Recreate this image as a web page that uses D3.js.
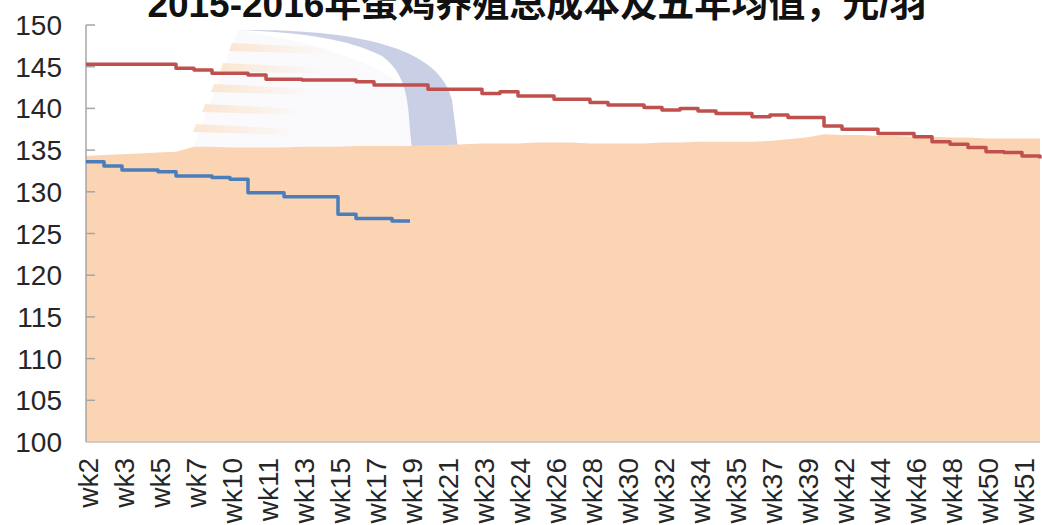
<!DOCTYPE html>
<html>
<head>
<meta charset="utf-8">
<script src="https://cdn.jsdelivr.net/npm/d3@7"></script>
<style>
  body { margin: 0; background: #fff; }
  svg { display: block; }
  text { font-family: "Liberation Sans", Arial, "Noto Sans CJK SC", sans-serif; }
</style>
</head>
<body>
<script>
// week labels shown on the axis (every second point)
const weekLabels = ["wk2", "wk3", "wk5", "wk7", "wk10", "wk11", "wk13", "wk15", "wk17", "wk19",
  "wk21", "wk23", "wk24", "wk26", "wk28", "wk30", "wk32", "wk34", "wk35", "wk37",
  "wk39", "wk42", "wk44", "wk46", "wk48", "wk50", "wk51"];

// orange area (2015)
const area2015 = [134.3, 134.4, 134.5, 134.6, 134.7, 134.8, 135.4, 135.4, 135.3, 135.3,
  135.3, 135.3, 135.4, 135.4, 135.4, 135.5, 135.5, 135.5, 135.5, 135.6,
  135.6, 135.7, 135.8, 135.8, 135.8, 135.9, 135.9, 135.9, 135.8, 135.8,
  135.8, 135.8, 135.9, 135.9, 136.0, 136.0, 136.0, 136.0, 136.1, 136.3,
  136.5, 136.9, 136.8, 136.8, 136.7, 136.7, 136.6, 136.6, 136.5, 136.5,
  136.4, 136.4, 136.4, 136.4];

// red line (five-year average)
const avg5 = [145.3, 145.3, 145.3, 145.3, 145.3, 144.8, 144.6, 144.2, 144.2, 144.0,
  143.5, 143.5, 143.4, 143.4, 143.4, 143.2, 142.8, 142.8, 142.8, 142.3,
  142.3, 142.3, 141.8, 142.0, 141.5, 141.5, 141.1, 141.1, 140.7, 140.4,
  140.4, 140.1, 139.8, 140.0, 139.7, 139.4, 139.4, 139.0, 139.2, 138.9,
  138.9, 137.9, 137.5, 137.5, 137.0, 137.0, 136.6, 136.0, 135.7, 135.3,
  134.8, 134.7, 134.3, 134.0];

// blue line (2016)
const line2016 = [133.6, 133.1, 132.6, 132.6, 132.4, 131.9, 131.9, 131.7, 131.5, 129.9,
  129.9, 129.4, 129.4, 129.4, 127.3, 126.8, 126.8, 126.5, 126.5];

const yTicks = d3.range(100, 151, 5);

const width = 1042;
const height = 525;
const margin = { top: 25, right: 2, bottom: 83, left: 86 };

const x = d3.scaleLinear()
  .domain([0, area2015.length - 1])
  .range([margin.left, width - margin.right]);

const y = d3.scaleLinear()
  .domain([100, 150])
  .range([height - margin.bottom, margin.top]);

const svg = d3.select("body")
  .append("svg")
  .attr("width", width)
  .attr("height", height);

// faded logo watermark behind the plot
const defs = svg.append("defs");
const grad = defs.append("linearGradient").attr("id", "ray");
grad.append("stop").attr("offset", "0%").attr("stop-color", "#fbe3cc").attr("stop-opacity", 0.9);
grad.append("stop").attr("offset", "100%").attr("stop-color", "#fbe3cc").attr("stop-opacity", 0);

const wm = svg.append("g");
wm.append("path")
  .attr("d", "M238,30 L193,148 L440,148 C430,110 420,60 238,30 Z")
  .attr("fill", "#fafafc");
[47, 67, 88, 108, 128].forEach((yy, i) => {
  const x0 = 232 - i * 9;
  wm.append("path")
    .attr("d", `M${x0},${yy - 4} L${x0 + 100},${yy + 1} L${x0 + 100},${yy + 7} L${x0 - 3},${yy + 4} Z`)
    .attr("fill", "url(#ray)");
});
wm.append("path")
  .attr("d", "M238,30 C360,29 440,48 452,100 L458,148 L412,148 C407,112 412,78 382,56 C345,37 292,32 238,30 Z")
  .attr("fill", "#c9d0e5");

// area
svg.append("path")
  .datum(area2015)
  .attr("fill", "#fbd4b4")
  .attr("d", d3.area()
    .x((d, i) => x(i))
    .y0(y(100))
    .y1((d) => y(d)));

// axes
svg.append("line")
  .attr("x1", margin.left).attr("x2", margin.left)
  .attr("y1", y(150)).attr("y2", y(100))
  .attr("stroke", "#a6a6a6").attr("stroke-width", 1.5);

svg.append("line")
  .attr("x1", margin.left).attr("x2", width - margin.right)
  .attr("y1", y(100)).attr("y2", y(100))
  .attr("stroke", "#c0c0c0").attr("stroke-width", 1.5);

svg.selectAll(".ytick")
  .data(yTicks.filter((d) => d > 100))
  .join("line")
  .attr("x1", margin.left).attr("x2", margin.left + 9)
  .attr("y1", (d) => y(d)).attr("y2", (d) => y(d))
  .attr("stroke", "#a6a6a6").attr("stroke-width", 1.5);

svg.selectAll(".ylabel")
  .data(yTicks)
  .join("text")
  .attr("x", 62)
  .attr("y", (d) => y(d))
  .attr("dy", "0.36em")
  .attr("text-anchor", "end")
  .attr("font-size", 28)
  .attr("fill", "#262626")
  .text((d) => d);

svg.selectAll(".xlabel")
  .data(weekLabels)
  .join("text")
  .attr("transform", (d, i) => `translate(${x(i * 2) + 2},${y(100) + 16}) rotate(-90)`)
  .attr("dy", "0.36em")
  .attr("text-anchor", "end")
  .attr("font-size", 28)
  .attr("fill", "#262626")
  .text((d) => d);

// lines
const stepLine = d3.line()
  .x((d, i) => x(i))
  .y((d) => y(d))
  .curve(d3.curveStepAfter);

svg.append("path")
  .datum(avg5)
  .attr("fill", "none")
  .attr("stroke", "#c0504d")
  .attr("stroke-width", 3.5)
  .attr("stroke-linejoin", "round")
  .attr("d", stepLine);

svg.append("path")
  .datum(line2016)
  .attr("fill", "none")
  .attr("stroke", "#4a7ebb")
  .attr("stroke-width", 3.5)
  .attr("stroke-linejoin", "round")
  .attr("d", stepLine);

// title (top is cut off in the original)
svg.append("text")
  .attr("x", 537)
  .attr("y", 17)
  .attr("text-anchor", "middle")
  .attr("font-size", 37)
  .attr("font-weight", "bold")
  .attr("fill", "#111")
  .text("2015-2016年蛋鸡养殖总成本及五年均值，元/羽");
</script>
</body>
</html>
